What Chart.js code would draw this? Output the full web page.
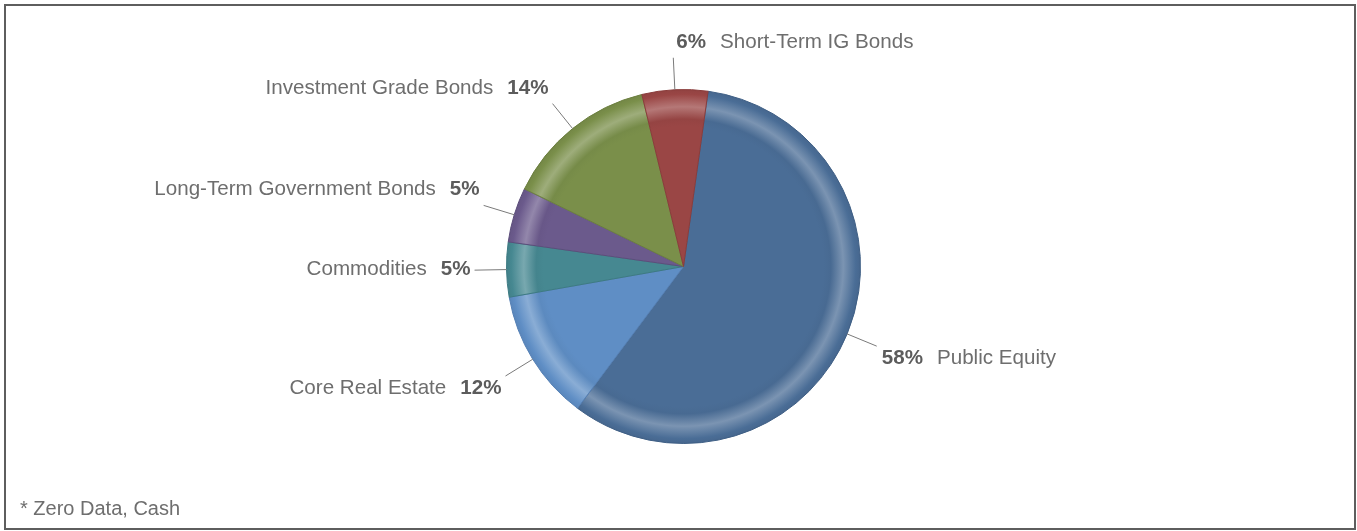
<!DOCTYPE html>
<html>
<head>
<meta charset="utf-8">
<title>Asset Allocation</title>
<script src="https://cdn.jsdelivr.net/npm/chart.js@4.4.1/dist/chart.umd.min.js"></script>
<style>
  html, body { margin: 0; padding: 0; background: #ffffff; }
  #wrap { position: relative; width: 1357px; height: 531px; overflow: hidden; }
  #frame {
    position: absolute; left: 4px; top: 4px; width: 1348px; height: 522px;
    border: 2px solid #5e5e5e; pointer-events: none;
  }
  #note {
    position: absolute; left: 20px; top: 497px;
    font: 20px "Liberation Sans", Arial, sans-serif; color: #6e6e6e;
  }
  canvas { position: absolute; left: 0; top: 0; }
</style>
</head>
<body>
<div id="wrap">
  <canvas id="chart" width="1357" height="531"></canvas>
  <div id="frame"></div>
  <div id="note">* Zero Data, Cash</div>
</div>
<script>
// Portfolio allocation by asset class (percent of total)
const categories = [
  'Public Equity',
  'Core Real Estate',
  'Commodities',
  'Long-Term Government Bonds',
  'Investment Grade Bonds',
  'Short-Term IG Bonds'
];
const allocation = [58, 12, 5, 5, 14, 6];

// Slice fills and their edge lines
const sliceColors = ['#4a6d96', '#5f8ec5', '#468891', '#6b5a8c', '#7a8f4a', '#9a4645'];
const edgeColors  = ['#3f5f85', '#5580b5', '#3c7a82', '#5c4d7b', '#6b7f3f', '#8a3c3b'];

const FONT_FAMILY = '"Liberation Sans", Arial, sans-serif';
const LABEL_SIZE = 20.6;

function shade(hex, amt) {
  const n = parseInt(hex.slice(1), 16);
  let r = (n >> 16) & 255, g = (n >> 8) & 255, b = n & 255;
  const f = c => Math.round(amt >= 0 ? c + (255 - c) * amt : c * (1 + amt));
  return `rgb(${f(r)},${f(g)},${f(b)})`;
}

// Radial fill with a soft light bevel band near the rim
function sliceFill(ctx) {
  const chart = ctx.chart;
  const area = chart.chartArea;
  const base = sliceColors[ctx.dataIndex];
  if (!area) return base;
  const cx = (area.left + area.right) / 2;
  const cy = (area.top + area.bottom) / 2;
  const r = Math.min(area.right - area.left, area.bottom - area.top) / 2;
  const g = chart.ctx.createRadialGradient(cx, cy, 0, cx, cy, r);
  g.addColorStop(0, base);
  g.addColorStop(0.79, base);
  g.addColorStop(0.83, shade(base, -0.03));
  g.addColorStop(0.90, shade(base, 0.27));
  g.addColorStop(0.97, base);
  g.addColorStop(1, shade(base, -0.06));
  return g;
}

// Leader lines with "name  NN%" labels outside each slice
const outsideLabels = {
  id: 'outsideLabels',
  afterDatasetsDraw(chart) {
    const ctx = chart.ctx;
    const meta = chart.getDatasetMeta(0);
    const lead = 32;
    ctx.save();
    meta.data.forEach((arc, i) => {
      const p = arc.getProps(['x', 'y', 'startAngle', 'endAngle', 'outerRadius'], true);
      const mid = (p.startAngle + p.endAngle) / 2;
      const dx = Math.cos(mid), dy = Math.sin(mid);
      const x1 = p.x + dx * p.outerRadius, y1 = p.y + dy * p.outerRadius;
      const x2 = p.x + dx * (p.outerRadius + lead), y2 = p.y + dy * (p.outerRadius + lead);

      ctx.strokeStyle = '#7a7a7a';
      ctx.lineWidth = 1;
      ctx.beginPath();
      ctx.moveTo(x1, y1);
      ctx.lineTo(x2, y2);
      ctx.stroke();

      const pct = allocation[i] + '%';
      const name = categories[i];
      const boldFont = 'bold ' + LABEL_SIZE + 'px ' + FONT_FAMILY;
      const normFont = LABEL_SIZE + 'px ' + FONT_FAMILY;
      const gap = 14;

      let baseY;
      if (dy < -0.2) baseY = y2 - 10;
      else if (dy > 0.2) baseY = y2 + 18;
      else baseY = y2 + 5;

      ctx.textBaseline = 'alphabetic';
      ctx.textAlign = 'left';
      if (dx < -0.2) {
        // label sits to the left: name then percent, right-aligned to the leader end
        ctx.font = boldFont;
        const wp = ctx.measureText(pct).width;
        ctx.font = normFont;
        const wn = ctx.measureText(name).width;
        const xr = x2 - 4;
        ctx.fillStyle = '#6e6e6e';
        ctx.fillText(name, xr - wp - gap - wn, baseY);
        ctx.font = boldFont;
        ctx.fillStyle = '#5c5c5c';
        ctx.fillText(pct, xr - wp, baseY);
      } else {
        const xl = x2 + (Math.abs(dx) < 0.2 ? 3 : 5);
        ctx.font = boldFont;
        const wp = ctx.measureText(pct).width;
        ctx.fillStyle = '#5c5c5c';
        ctx.fillText(pct, xl, baseY);
        ctx.font = normFont;
        ctx.fillStyle = '#6e6e6e';
        ctx.fillText(name, xl + wp + gap, baseY);
      }
    });
    ctx.restore();
  }
};

new Chart(document.getElementById('chart'), {
  type: 'pie',
  data: {
    labels: categories,
    datasets: [{
      data: allocation,
      backgroundColor: sliceFill,
      borderColor: edgeColors,
      borderWidth: 1
    }]
  },
  options: {
    responsive: false,
    animation: false,
    rotation: 8,
    layout: { padding: { left: 10, right: 0, top: 89, bottom: 87 } },
    plugins: {
      legend: { display: false },
      tooltip: { enabled: false }
    }
  },
  plugins: [outsideLabels]
});
</script>
</body>
</html>
